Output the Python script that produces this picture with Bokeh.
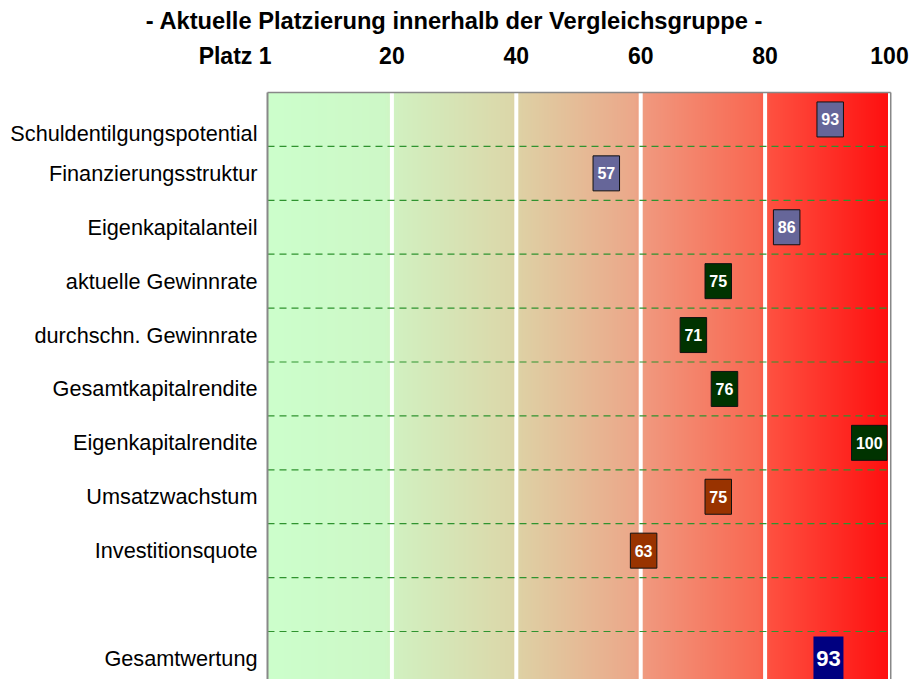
import numpy as np
from bokeh.plotting import figure
from bokeh.models import Range1d, ColumnDataSource
from bokeh.embed import file_html
from bokeh.resources import INLINE
from bokeh.core.properties import value

# ---------------- data ----------------
title_text = "- Aktuelle Platzierung innerhalb der Vergleichsgruppe -"
categories = [
    "Schuldentilgungspotential",
    "Finanzierungsstruktur",
    "Eigenkapitalanteil",
    "aktuelle Gewinnrate",
    "durchschn. Gewinnrate",
    "Gesamtkapitalrendite",
    "Eigenkapitalrendite",
    "Umsatzwachstum",
    "Investitionsquote",
]
ranks = [93, 57, 86, 75, 71, 76, 100, 75, 63]
groups = ["Finanzen", "Finanzen", "Finanzen",
          "Ertrag", "Ertrag", "Ertrag", "Ertrag",
          "Wachstum", "Wachstum"]
total_label = "Gesamtwertung"
total_rank = 93
tick_values = [20, 40, 60, 80, 100]
first_tick_label = "Platz 1"

# ---------------- styling / layout ----------------
group_colors = {"Finanzen": "#666699", "Ertrag": "#003300", "Wachstum": "#993300"}
total_color = "#000080"
FONT = value("Liberation Sans")

W, H = 910, 679
LEFT, TOP = 267, 92          # pixel position of the scale origin (rank 0, first row)
SCALE_W = 622                # pixels spanned by ranks 0..100
ROW_PX = 53.9                # pixel height of one row
PX = SCALE_W / 100.0

p = figure(width=W, height=H,
           x_range=Range1d(-LEFT / PX, (W - LEFT) / PX),
           y_range=Range1d((H - TOP) / ROW_PX, -TOP / ROW_PX),
           min_border=0, x_axis_location=None, y_axis_location=None,
           output_backend="svg", toolbar_location=None)
p.grid.visible = False
p.outline_line_color = None
p.background_fill_color = "white"
p.border_fill_color = "white"

n_cat = len(categories)
total_row = n_cat + 1
bottom_edge = (H - TOP) / ROW_PX + 0.5

# ---------------- gradient background ----------------
g_pos = [0, 19, 21, 39, 41, 59, 61, 79, 81, 100]
g_rgb = [(204, 255, 204), (206, 248, 199), (210, 240, 192), (220, 216, 170),
         (223, 208, 164), (236, 168, 138), (241, 152, 126), (249, 104, 82),
         (254, 80, 64), (255, 16, 16)]
N = SCALE_W
xs = np.linspace(0, 100, N)
img = np.empty((1, N), dtype=np.uint32)
view = img.view(dtype=np.uint8).reshape((1, N, 4))
for k in range(3):
    view[0, :, k] = np.interp(xs, g_pos, [c[k] for c in g_rgb]).astype(np.uint8)
view[0, :, 3] = 255
p.image_rgba(image=[img], x=0, y=0, dw=100, dh=bottom_edge)

# white vertical grid bands
for t in tick_values:
    p.segment(x0=t, x1=t, y0=0, y1=bottom_edge, line_color="white",
              line_width=3 if t == 100 else 4)

# dashed row separators
seps = list(range(1, total_row + 1))
p.segment(x0=[0] * len(seps), x1=[100] * len(seps), y0=seps, y1=seps,
          line_color="#2f932f", line_width=1.2, line_dash="7 5")

# frame border (left, top, right)
p.segment(x0=[0, 0, 100.2], x1=[0, 100.2, 100.2], y0=[bottom_edge, 0, 0],
          y1=[0, 0, bottom_edge], line_color="#888888", line_width=[2, 1.5, 1.5])

# ---------------- markers ----------------
GAP = 2.5
BOX_H = 35
rows = [i + 0.5 for i in range(n_cat)]
widths = [8.5 + 9 * len(str(r)) for r in ranks]
right = [r - GAP / PX for r in ranks]
left = [rr - w / PX for rr, w in zip(right, widths)]
top = [y - BOX_H / 2 / ROW_PX for y in rows]
bottom = [y + BOX_H / 2 / ROW_PX for y in rows]
colors = [group_colors[g] for g in groups]
src = ColumnDataSource(dict(left=left, right=right, top=top, bottom=bottom,
                            color=colors, xc=[(a + b) / 2 for a, b in zip(left, right)],
                            y=rows, txt=[str(r) for r in ranks]))
p.quad(left="left", right="right", top="top", bottom="bottom", source=src,
       fill_color="color", line_color="#111111", line_width=1)
p.text(x="xc", y="y", text="txt", source=src, text_color="white",
       text_font=FONT, text_font_style="bold", text_font_size="16px",
       text_align="center", text_baseline="middle")

# total marker
TB_W, TB_H = 30, 44
t_y = total_row + 0.5
t_right = total_rank - GAP / PX
t_left = t_right - TB_W / PX
tsrc = ColumnDataSource(dict(left=[t_left], right=[t_right],
                             top=[t_y - TB_H / 2 / ROW_PX], bottom=[t_y + TB_H / 2 / ROW_PX],
                             xc=[(t_left + t_right) / 2], y=[t_y], txt=[str(total_rank)]))
p.quad(left="left", right="right", top="top", bottom="bottom", source=tsrc,
       fill_color=total_color, line_color=None)
p.text(x="xc", y="y", text="txt", source=tsrc, text_color="white",
       text_font=FONT, text_font_style="bold", text_font_size="22px",
       text_align="center", text_baseline="middle")

# ---------------- category labels ----------------
label_shift_px = [14] + [0] * (n_cat - 1) + [0]
lab_names = categories + [total_label]
lab_rows = rows + [t_y]
lab_y = [y + s / ROW_PX for y, s in zip(lab_rows, label_shift_px)]
lsrc = ColumnDataSource(dict(x=[0] * len(lab_names), y=lab_y, text=lab_names))
p.text(x="x", y="y", text="text", source=lsrc, x_offset=-10,
       text_align="right", text_baseline="middle",
       text_font=FONT, text_font_size="21.7px", text_color="black")

# ---------------- top labels ----------------
TICK_BASE_PX = 55   # page px from top
TITLE_BASE_PX = 20
TITLE_CENTER_PX = 454
tick_y = (TICK_BASE_PX - TOP) / ROW_PX
title_y = (TITLE_BASE_PX - TOP) / ROW_PX
tsrc2 = ColumnDataSource(dict(x=tick_values, y=[tick_y] * len(tick_values),
                              text=[str(t) for t in tick_values]))
p.text(x="x", y="y", text="text", source=tsrc2,
       text_align="center", text_baseline="alphabetic",
       text_font=FONT, text_font_style="bold", text_font_size="23px",
       text_color="black")
p.text(x=[0], y=[tick_y], text=[first_tick_label], x_offset=4,
       text_align="right", text_baseline="alphabetic",
       text_font=FONT, text_font_style="bold", text_font_size="23px",
       text_color="black")
p.text(x=[(TITLE_CENTER_PX - LEFT) / PX], y=[title_y], text=[title_text],
       text_align="center", text_baseline="alphabetic",
       text_font=FONT, text_font_style="bold", text_font_size="23.7px",
       text_color="black")

open("out.html", "w").write(file_html(p, INLINE))
